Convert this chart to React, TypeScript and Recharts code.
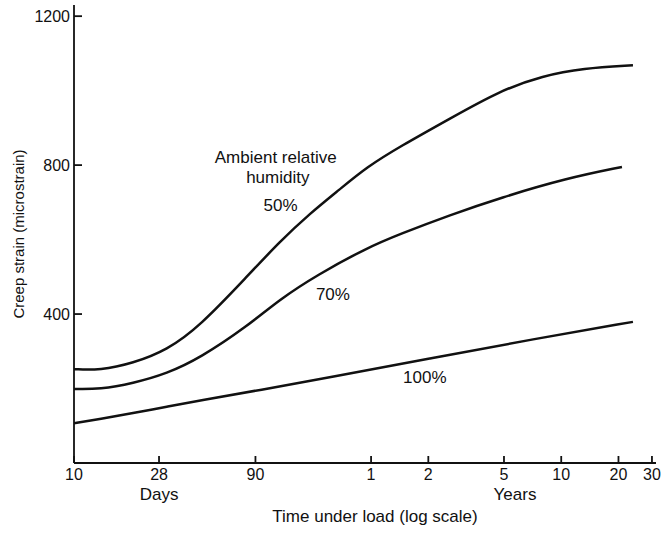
import React from 'react';
import { LineChart, Line, XAxis, YAxis, ReferenceDot, Label } from 'recharts';

// Time under load in days (log axis); strain in microstrain.
const humidity50 = [
  { day: 10, strain: 252 },
  { day: 13.7, strain: 249 },
  { day: 20.4, strain: 268 },
  { day: 30.8, strain: 303 },
  { day: 46, strain: 368 },
  { day: 81, strain: 500 },
  { day: 121, strain: 595 },
  { day: 174, strain: 670 },
  { day: 250, strain: 735 },
  { day: 347, strain: 795 },
  { day: 518, strain: 850 },
  { day: 949, strain: 925 },
  { day: 1739, strain: 1000 },
  { day: 2927, strain: 1040 },
  { day: 4750, strain: 1060 },
  { day: 8700, strain: 1068 },
];

const humidity70 = [
  { day: 10, strain: 199 },
  { day: 13.7, strain: 198 },
  { day: 20.4, strain: 214 },
  { day: 30.8, strain: 240 },
  { day: 46, strain: 282 },
  { day: 81, strain: 366 },
  { day: 121, strain: 440 },
  { day: 190, strain: 505 },
  { day: 347, strain: 578 },
  { day: 518, strain: 615 },
  { day: 949, strain: 666 },
  { day: 1739, strain: 712 },
  { day: 3914, strain: 765 },
  { day: 7616, strain: 795 },
];

const humidity100 = [
  { day: 10, strain: 107 },
  { day: 13.7, strain: 118 },
  { day: 20.4, strain: 134 },
  { day: 30.8, strain: 151 },
  { day: 46, strain: 168 },
  { day: 95, strain: 196 },
  { day: 222, strain: 230 },
  { day: 745, strain: 281 },
  { day: 2500, strain: 331 },
  { day: 8700, strain: 379 },
];

// Tick positions in days and the labels printed under them.
const xTickDays = [10, 28, 90, 365, 730, 1825, 3650, 7300, 10950];
const xTickLabels = ['10', '28', '90', '1', '2', '5', '10', '20', '30'];
const yTicks = [0, 400, 800, 1200];

// Unit captions printed beneath particular ticks.
const unitCaptions: { [day: number]: { text: string; dx: number } } = {
  28: { text: 'Days', dx: 0 },
  1825: { text: 'Years', dx: 11 },
};

// Curve annotations, placed in data coordinates.
const annotations = [
  { day: 115, strain: 821, text: 'Ambient relative' },
  { day: 118, strain: 767, text: 'humidity' },
  { day: 122, strain: 692, text: '50%' },
  { day: 230, strain: 453, text: '70%' },
  { day: 700, strain: 230, text: '100%' },
];

const INK = '#111';
const FONT = '"Liberation Sans", Arial, Helvetica, sans-serif';

const XTick = (props: any) => {
  const { x, y, payload } = props;
  const idx = xTickDays.indexOf(payload.value);
  const caption = unitCaptions[payload.value];
  return (
    <g>
      <line x1={x} y1={y} x2={x} y2={y - 7} stroke={INK} strokeWidth={1.8} />
      <text x={x} y={y + 17} textAnchor="middle" fontSize={16} fill={INK}>
        {idx >= 0 ? xTickLabels[idx] : ''}
      </text>
      {caption && (
        <text x={x + caption.dx} y={y + 37} textAnchor="middle" fontSize={17} fill={INK}>
          {caption.text}
        </text>
      )}
    </g>
  );
};

const YTick = (props: any) => {
  const { x, y, payload } = props;
  if (payload.value === 0) return <g />;
  return (
    <g>
      <line x1={x} y1={y} x2={x + 8} y2={y} stroke={INK} strokeWidth={1.8} />
      <text x={x - 4} y={y + 5.5} textAnchor="end" fontSize={16} fill={INK}>
        {payload.value}
      </text>
    </g>
  );
};

const XTitle = (props: any) => {
  const vb = props.viewBox;
  return (
    <text x={vb.x + vb.width / 2 + 10} y={vb.y + 59} textAnchor="middle" fontSize={17} fill={INK}>
      Time under load (log scale)
    </text>
  );
};

const YTitle = (props: any) => {
  const vb = props.viewBox;
  const cx = 24;
  const cy = vb.y + vb.height / 2;
  return (
    <text x={cx} y={cy} transform={`rotate(-90 ${cx} ${cy})`} textAnchor="middle" fontSize={15} fill={INK}>
      Creep strain (microstrain)
    </text>
  );
};

export default function App() {
  return (
    <div style={{ position: 'absolute', left: 0, top: 0, fontFamily: FONT, background: '#fff' }}>
      <LineChart width={662} height={533} margin={{ top: 5, right: 6, bottom: 0, left: 0 }}>
        <XAxis
          dataKey="day"
          type="number"
          scale="log"
          domain={[10, 11500]}
          allowDataOverflow
          ticks={xTickDays}
          interval={0}
          height={70}
          tickSize={0}
          tickMargin={0}
          tickLine={false}
          tick={<XTick />}
          axisLine={{ stroke: INK, strokeWidth: 1.8 }}
        >
          <Label content={<XTitle />} />
        </XAxis>
        <YAxis
          type="number"
          domain={[0, 1230]}
          allowDataOverflow
          ticks={yTicks}
          interval={0}
          width={74}
          tickSize={0}
          tickMargin={0}
          tickLine={false}
          tick={<YTick />}
          axisLine={{ stroke: INK, strokeWidth: 1.8 }}
        >
          <Label content={<YTitle />} />
        </YAxis>
        <Line data={humidity50} dataKey="strain" type="basis" stroke={INK} strokeWidth={2.5} dot={false} isAnimationActive={false} />
        <Line data={humidity70} dataKey="strain" type="basis" stroke={INK} strokeWidth={2.5} dot={false} isAnimationActive={false} />
        <Line data={humidity100} dataKey="strain" type="basis" stroke={INK} strokeWidth={2.5} dot={false} isAnimationActive={false} />
        {annotations.map((a) => (
          <ReferenceDot
            key={a.text}
            x={a.day}
            y={a.strain}
            r={0}
            fill="none"
            stroke="none"
            label={{ value: a.text, position: 'center', fontSize: 17, fill: INK }}
          />
        ))}
      </LineChart>
    </div>
  );
}
